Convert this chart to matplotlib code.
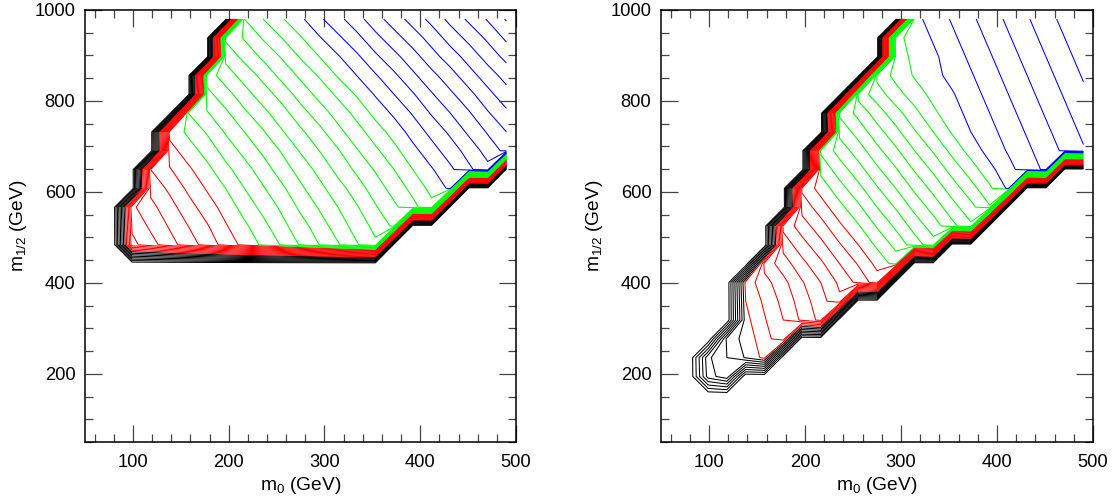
import matplotlib
matplotlib.use('Agg')
import matplotlib.pyplot as plt
import numpy as np
from matplotlib.ticker import MultipleLocator

plt.rcParams['font.family'] = ['Liberation Sans', 'DejaVu Sans']
plt.rcParams['mathtext.fontset'] = 'custom'
plt.rcParams['mathtext.rm'] = 'Liberation Sans'
plt.rcParams['mathtext.it'] = 'Liberation Sans:italic'

# scan grid of the parameter space (GeV)
m0_grid = [60, 79.5, 99.1, 118.6, 138.2, 157.7, 177.3, 196.8, 216.4, 235.9, 255.5, 275,
           294.5, 314.1, 333.6, 353.2, 372.7, 392.3, 411.8, 431.4, 450.9, 470.5, 490]
m12_grid = [70, 111.4, 152.7, 194.1, 235.5, 276.8, 318.2, 359.5, 400.9, 442.3, 483.6, 525,
            566.4, 607.7, 649.1, 690.5, 731.8, 773.2, 814.5, 855.9, 897.3, 938.6, 980]

# contour levels, drawn in four colour groups
black_levels = list(range(1, 9))
red_levels = list(range(9, 19))
green_levels = list(range(19, 30))
blue_levels = list(range(30, 42))

# left panel: grid rows inside the allowed region, first column, values (0 elsewhere)
left_rows = [10, 11, 12, 13, 14, 15, 16, 17, 18, 19, 20, 21, 22]
left_first = [2, 2, 2, 3, 3, 4, 4, 5, 6, 6, 7, 7, 8]
left_vals = [
    [12.7, 13.6, 14.6, 15.5, 16.4, 17.4, 18.3, 19.2, 20.1, 21.1, 22.0, 22.9, 23.9, 24.8],
    [13.2, 14.2, 15.1, 16.0, 16.9, 17.9, 18.8, 19.7, 20.7, 21.6, 22.5, 23.5, 24.4, 25.3, 26.2],
    [13.8, 14.7, 15.6, 16.6, 17.5, 18.4, 19.4, 20.3, 21.2, 22.2, 23.1, 24.0, 24.9, 25.9, 26.8,
     27.7, 28.7],
    [15.3, 16.2, 17.2, 18.1, 19.0, 20.0, 20.9, 21.8, 22.8, 23.7, 24.6, 25.5, 26.5, 27.4, 28.3,
     29.3, 30.2],
    [16.0, 16.9, 17.8, 18.7, 19.7, 20.6, 21.5, 22.5, 23.4, 24.3, 25.3, 26.2, 27.1, 28.0, 29.0,
     29.9, 30.8, 31.8, 32.7],
    [17.6, 18.5, 19.4, 20.4, 21.3, 22.2, 23.1, 24.1, 25.0, 25.9, 26.9, 27.8, 28.7, 29.7, 30.6,
     31.5, 32.4, 33.4, 34.3],
    [18.3, 19.2, 20.1, 21.1, 22.0, 22.9, 23.9, 24.8, 25.7, 26.7, 27.6, 28.5, 29.4, 30.4, 31.3,
     32.2, 33.2, 34.1, 35.0],
    [20.0, 20.9, 21.8, 22.8, 23.7, 24.6, 25.6, 26.5, 27.4, 28.3, 29.3, 30.2, 31.1, 32.1, 33.0,
     33.9, 34.9, 35.8],
    [21.7, 22.6, 23.6, 24.5, 25.4, 26.4, 27.3, 28.2, 29.1, 30.1, 31.0, 31.9, 32.9, 33.8, 34.7,
     35.7, 36.6],
    [22.5, 23.5, 24.4, 25.3, 26.3, 27.2, 28.1, 29.1, 30.0, 30.9, 31.8, 32.8, 33.7, 34.6, 35.6,
     36.5, 37.4],
    [24.3, 25.3, 26.2, 27.1, 28.1, 29.0, 29.9, 30.8, 31.8, 32.7, 33.6, 34.6, 35.5, 36.4, 37.4,
     38.3],
    [25.2, 26.1, 27.1, 28.0, 28.9, 29.9, 30.8, 31.7, 32.7, 33.6, 34.5, 35.4, 36.4, 37.3, 38.2,
     39.2],
    [27.0, 28.0, 28.9, 29.8, 30.8, 31.7, 32.6, 33.6, 34.5, 35.4, 36.3, 37.3, 38.2, 39.1, 40.1],
]

# right panel
right_rows = [3, 4, 5, 6, 7, 8, 9, 10, 11, 12, 13, 14, 15, 16, 17, 18, 19, 20, 21, 22]
right_first = [2, 2, 3, 4, 4, 4, 5, 6, 6, 7, 7, 8, 8, 9, 9, 10, 11, 12, 12, 13]
right_vals = [
    [5.5, 6.7],
    [5.8, 7.0, 8.1, 9.3],
    [7.3, 8.4, 9.6, 10.7],
    [8.7, 9.9, 11.0, 12.2, 13.3],
    [9.0, 10.2, 11.3, 12.5, 13.6, 14.8],
    [9.4, 10.6, 11.7, 12.9, 14.0, 15.2, 16.3, 17.5],
    [11.4, 12.5, 13.7, 14.8, 16.0, 17.1, 18.3, 19.4],
    [13.4, 14.6, 15.7, 16.9, 18.0, 19.2, 20.3, 21.5, 22.6],
    [14.3, 15.5, 16.6, 17.8, 18.9, 20.1, 21.2, 22.4, 23.5, 24.7, 25.8],
    [16.4, 17.5, 18.7, 19.8, 21.0, 22.1, 23.3, 24.4, 25.6, 26.7, 27.9],
    [17.2, 18.4, 19.6, 20.7, 21.9, 23.0, 24.2, 25.3, 26.5, 27.6, 28.8, 30.2],
    [19.3, 20.5, 21.6, 22.8, 23.9, 25.1, 26.2, 27.4, 28.5, 29.7, 30.7, 31.5, 32.2],
    [20.2, 21.4, 22.5, 23.7, 24.8, 26.0, 27.1, 28.3, 29.4, 30.4, 31.1, 31.8, 32.5, 33.2, 33.9],
    [22.3, 23.4, 24.6, 25.7, 26.9, 28.0, 29.1, 30.0, 30.7, 31.4, 32.1, 32.8, 33.5, 34.2],
    [23.2, 24.3, 25.5, 26.6, 27.7, 28.8, 29.6, 30.3, 31.0, 31.7, 32.4, 33.1, 33.8, 34.5],
    [25.4, 26.5, 27.6, 28.5, 29.3, 29.9, 30.6, 31.3, 32.0, 32.7, 33.4, 34.1, 34.8],
    [27.3, 28.3, 29.1, 29.7, 30.3, 30.9, 31.6, 32.3, 33.0, 33.7, 34.4, 35.1],
    [28.6, 29.2, 29.8, 30.5, 31.2, 31.9, 32.6, 33.3, 34.0, 34.7, 35.4],
    [28.7, 29.4, 30.1, 30.8, 31.5, 32.2, 32.9, 33.6, 34.3, 35.0, 35.8],
    [29.7, 30.4, 31.1, 31.8, 32.5, 33.2, 33.9, 34.6, 35.3, 36.0],
]


def fill_grid(rows, first, vals):
    z = np.zeros((len(m12_grid), len(m0_grid)))
    for k, j0, v in zip(rows, first, vals):
        z[k, j0:j0 + len(v)] = v
    return z


groups = [(black_levels, '#000000'), (red_levels, '#ff0000'),
          (green_levels, '#00ff00'), (blue_levels, '#0000ff')]

fig = plt.figure(figsize=(11.14, 5.01), dpi=100)
ax_l = fig.add_axes([0.0763, 0.1178, 0.3869, 0.8623])
ax_r = fig.add_axes([0.5934, 0.1178, 0.3878, 0.8623])

panels = [(ax_l, fill_grid(left_rows, left_first, left_vals)),
          (ax_r, fill_grid(right_rows, right_first, right_vals))]

for ax, z in panels:
    for levels, col in groups:
        ax.contour(m0_grid, m12_grid, z, levels=levels, colors=col, linewidths=0.75)
    ax.set_xlim(50, 500)
    ax.set_ylim(50, 1000)
    ax.xaxis.set_major_locator(MultipleLocator(100))
    ax.xaxis.set_minor_locator(MultipleLocator(20))
    ax.yaxis.set_major_locator(MultipleLocator(200))
    ax.yaxis.set_minor_locator(MultipleLocator(50))
    ax.tick_params(which='both', direction='in', top=True, right=True,
                   color='#444444', width=0.9, labelsize=13.2)
    ax.tick_params(axis='x', pad=8.5)
    ax.tick_params(axis='y', pad=7)
    ax.tick_params(which='major', length=12)
    ax.tick_params(which='minor', length=6)
    for sp in ax.spines.values():
        sp.set_linewidth(1.1)
    ax.set_xlabel(r'm$_0$ (GeV)', fontsize=13.8, labelpad=3)
    ax.set_ylabel(r'm$_{1/2}$ (GeV)', fontsize=13.8, labelpad=4)

fig.savefig('out.png', dpi=100)
